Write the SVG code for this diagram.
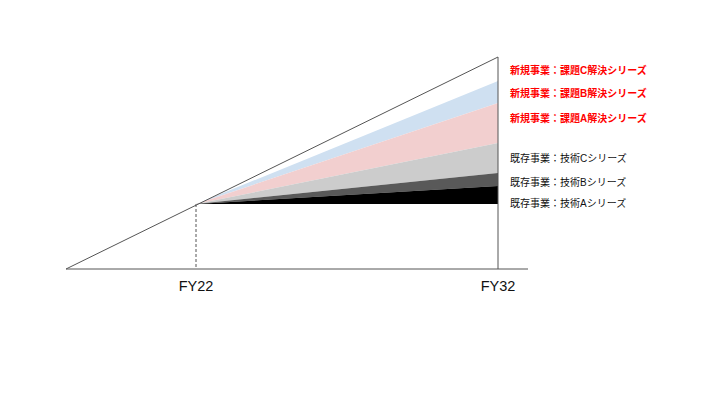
<svg xmlns="http://www.w3.org/2000/svg" width="720" height="405" viewBox="0 0 720 405">
<style>
.red{font-family:"Liberation Sans","Noto Sans CJK JP",sans-serif;font-size:10px;font-weight:bold;fill:#ff0000}
.blk{font-family:"Liberation Sans","Noto Sans CJK JP",sans-serif;font-size:10px;fill:#111}
.ax{font-family:"Liberation Sans",sans-serif;font-size:14.5px;fill:#111;text-anchor:middle}
.ln{stroke:#555;stroke-width:1;fill:none}
</style>
<rect width="720" height="405" fill="#fff"/>
<g id="bands">
<polygon points="196,204 498,81 498,103" fill="#cfe0f1"/>
<polygon points="196,204 498,103 498,143" fill="#f2cfcf"/>
<polygon points="196,204 498,143 498,173" fill="#cccccc"/>
<polygon points="196,204 498,173 498,186" fill="#595959"/>
<polygon points="196,204 498,186 498,204" fill="#000000"/>
</g>
<g id="connectors">
<line class="ln" x1="66" y1="269" x2="528" y2="269" stroke="#888"/>
<line class="ln" x1="66" y1="269" x2="498" y2="57"/>
<line class="ln" x1="498" y1="57" x2="498" y2="269"/>
<line class="ln" x1="196" y1="204" x2="196" y2="269" stroke-dasharray="3,2"/>
</g>
<g id="labels">
<text class="red" x="510" y="74">新規事業：課題C解決シリーズ</text>
<text class="red" x="510" y="97">新規事業：課題B解決シリーズ</text>
<text class="red" x="510" y="122">新規事業：課題A解決シリーズ</text>
<text class="blk" x="510" y="162">既存事業：技術Cシリーズ</text>
<text class="blk" x="510" y="186">既存事業：技術Bシリーズ</text>
<text class="blk" x="510" y="207">既存事業：技術Aシリーズ</text>
<text class="ax" x="196" y="291">FY22</text>
<text class="ax" x="498" y="291">FY32</text>
</g>
</svg>
